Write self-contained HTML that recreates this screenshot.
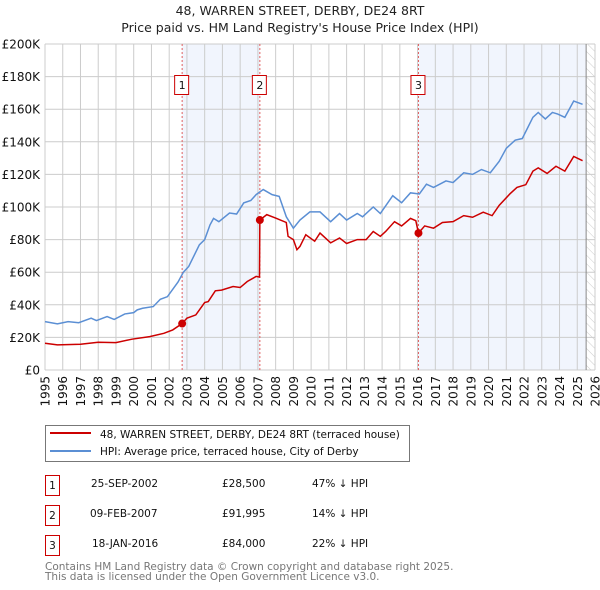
<!DOCTYPE html>
<html><head><meta charset="utf-8"><style>
body{margin:0;background:#fff;font-family:"DejaVu Sans","Liberation Sans",sans-serif;}
#wrap{position:relative;width:600px;height:590px;overflow:hidden}
</style></head><body>
<div id="wrap">
<svg id="chart" width="600" height="590" xmlns="http://www.w3.org/2000/svg" font-family="DejaVu Sans, Liberation Sans, sans-serif">
<defs><pattern id="hatch" width="6" height="6" patternUnits="userSpaceOnUse" patternTransform="rotate(-45)"><line x1="0" y1="0" x2="0" y2="6" stroke="#ccc" stroke-width="1"/></pattern></defs>
<text x="300" y="15" text-anchor="middle" font-size="12.5" fill="#222">48, WARREN STREET, DERBY, DE24 8RT</text>
<text x="300" y="32" text-anchor="middle" font-size="12.5" fill="#222">Price paid vs. HM Land Registry's House Price Index (HPI)</text>
<g id="plot"></g>
<g>
<rect x="45.5" y="425.5" width="364" height="36" fill="#fff" stroke="#777"/>
<line x1="50" y1="433" x2="91" y2="433" stroke="#cc0000" stroke-width="2"/>
<text x="100" y="438" font-size="10.5" fill="#111">48, WARREN STREET, DERBY, DE24 8RT (terraced house)</text>
<line x1="50" y1="451" x2="91" y2="451" stroke="#5b8fd4" stroke-width="2"/>
<text x="100" y="455" font-size="10.5" fill="#111">HPI: Average price, terraced house, City of Derby</text>
</g>
<g font-size="10.5" fill="#111">
<rect x="45.5" y="475.5" width="14" height="20" fill="#fff" stroke="#cc0000"/><text x="52.5" y="489" text-anchor="middle">1</text>
<text x="91" y="487">25-SEP-2002</text><text x="222" y="487">£28,500</text><text x="312" y="487">47% ↓ HPI</text>
<rect x="45.5" y="505.5" width="14" height="20" fill="#fff" stroke="#cc0000"/><text x="52.5" y="519" text-anchor="middle">2</text>
<text x="90" y="517">09-FEB-2007</text><text x="222" y="517">£91,995</text><text x="312" y="517">14% ↓ HPI</text>
<rect x="45.5" y="535.5" width="14" height="20" fill="#fff" stroke="#cc0000"/><text x="52.5" y="549" text-anchor="middle">3</text>
<text x="92" y="547">18-JAN-2016</text><text x="222" y="547">£84,000</text><text x="312" y="547">22% ↓ HPI</text>
</g>
<text x="45" y="570" font-size="10.5" fill="#777">Contains HM Land Registry data © Crown copyright and database right 2025.</text>
<text x="45" y="580" font-size="10.5" fill="#777">This data is licensed under the Open Government Licence v3.0.</text>
</svg>
</div>
<script>
const hpiYears=[1995,1995.7,1996.3,1996.9,1997.6,1997.9,1998.5,1998.9,1999.5,2000,2000.2,2000.5,2001.1,2001.5,2001.9,2002.5,2002.8,2003.1,2003.7,2004,2004.3,2004.5,2004.8,2005.4,2005.8,2006.2,2006.6,2006.9,2007.3,2007.8,2008.2,2008.6,2009,2009.37,2009.93,2010.5,2011.1,2011.6,2012,2012.6,2012.9,2013.5,2013.9,2014.6,2015.1,2015.6,2016.1,2016.5,2016.9,2017.6,2018,2018.6,2019.1,2019.6,2020.1,2020.6,2021,2021.5,2021.9,2022.5,2022.8,2023.2,2023.6,2023.9,2024.3,2024.8,2025.3];
const hpiValues=[29.7,28.3,29.7,29,31.8,30.3,32.8,31,34.4,35.2,36.9,37.9,38.9,43.4,45,54,60,63.5,76.8,80,89,93,91,96.3,95.7,102.5,104,107.6,110.7,107.6,106.5,94,87,92,97,97,91,96,92,96,94,100,96,106.9,102.6,108.7,108,114,112,116,115,121,120,123,121,128,136,141,142,155,158,154,158,157,155,165,163];
const priceYears=[1995,1995.7,1997,1998,1999,1999.9,2000.9,2001.7,2002.2,2002.73,2003,2003.5,2004,2004.2,2004.6,2004.95,2005.6,2006,2006.4,2006.9,2007.09,2007.11,2007.5,2008,2008.6,2008.7,2009,2009.2,2009.37,2009.7,2010.2,2010.5,2011.1,2011.6,2012,2012.6,2013.1,2013.5,2013.9,2014.2,2014.7,2015.1,2015.6,2015.9,2016.05,2016.4,2016.9,2017.4,2018,2018.6,2019.1,2019.7,2020.2,2020.6,2021.2,2021.6,2022.1,2022.5,2022.8,2023.3,2023.8,2024.3,2024.8,2025.3];
const priceValues=[16.4,15.4,15.8,17,16.8,18.9,20.5,22.5,24.6,28.5,31.8,33.8,41.4,42,48.6,49,51.2,50.6,54.3,57.4,57,92,95.3,93.2,90.5,82,80,73.8,75.8,83,79,84,78,81,77.6,80,80,85,82,85,91,88.4,93,91.6,84,88.4,87,90.5,91,94.7,93.7,96.8,94.7,101,108,112,113.7,122,124,120.6,125,122,131,128.4];
const saleYears=[2002.73,2007.11,2016.05];
const saleValues=[28.5,92,84];
const saleLabels=["1","2","3"];
const yTicks=[0,20,40,60,80,100,120,140,160,180,200];
const yTickLabels=["£0","£20K","£40K","£60K","£80K","£100K","£120K","£140K","£160K","£180K","£200K"];
const xTicks=[1995,1996,1997,1998,1999,2000,2001,2002,2003,2004,2005,2006,2007,2008,2009,2010,2011,2012,2013,2014,2015,2016,2017,2018,2019,2020,2021,2022,2023,2024,2025,2026];

const L=45,R=595,T=44,B=370,X0=1995,X1=2026,Y1=200;
const xs=y=>L+(y-X0)/(X1-X0)*(R-L);
const ys=v=>B-v/Y1*(B-T);
const NS="http://www.w3.org/2000/svg";
const g=document.getElementById('plot');
function mk(tag,attrs,parent){const e=document.createElementNS(NS,tag);for(const k in attrs)e.setAttribute(k,attrs[k]);(parent||g).appendChild(e);return e;}
let e;
e=mk('rect',{x:xs(saleYears[0]),y:T,width:xs(saleYears[1])-xs(saleYears[0]),height:B-T,fill:'#f1f5fd'});


e=mk('rect',{x:xs(saleYears[2]),y:T,width:xs(2025.5)-xs(saleYears[2]),height:B-T,fill:'#f1f5fd'});


e=mk('rect',{x:xs(2025.5),y:T,width:R-xs(2025.5),height:B-T,fill:'url(#hatch)'});


yTicks.forEach((v,i)=>{
  e=mk('line',{x1:L,x2:R,y1:ys(v),y2:ys(v),stroke:'#ccc','stroke-width':1});
  
  
  e=mk('text',{x:L-5,y:ys(v)+4.5,'text-anchor':'end','font-size':12,fill:'#111'});
  e.textContent=yTickLabels[i];
  
  
});
xTicks.forEach(y=>{
  e=mk('line',{x1:xs(y),x2:xs(y),y1:T,y2:B,stroke:'#ccc','stroke-width':1});
  
  
  e=mk('text',{x:0,y:0,'text-anchor':'end','font-size':12,fill:'#111',transform:`translate(${xs(y)+4.5},${B+6}) rotate(-90)`});
  e.textContent=y;
  
  
});
e=mk('line',{x1:xs(2025.5),x2:xs(2025.5),y1:T,y2:B,stroke:'#888','stroke-width':1});


saleYears.forEach((y,i)=>{
  e=mk('line',{x1:xs(y),x2:xs(y),y1:T,y2:B,stroke:'#e06060','stroke-width':1,'stroke-dasharray':'2,2'});
  
  
  e=mk('rect',{x:xs(y)-7.5,y:75.5,width:14,height:19,fill:'#fff',stroke:'#cc0000'});
  
  
  e=mk('text',{x:xs(y),y:89,'text-anchor':'middle','font-size':11,fill:'#111'});
  e.textContent=saleLabels[i];
  
  
});
e=mk('polyline',{points:hpiYears.map((y,i)=>xs(y)+','+ys(hpiValues[i])).join(' '),fill:'none',stroke:'#5b8fd4','stroke-width':1.5});


e=mk('polyline',{points:priceYears.map((y,i)=>xs(y)+','+ys(priceValues[i])).join(' '),fill:'none',stroke:'#cc0000','stroke-width':1.5});


saleYears.forEach((y,i)=>{
  e=mk('circle',{cx:xs(y),cy:ys(saleValues[i]),r:4,fill:'#cc0000'});
  
  
});
</script>
</body></html>
